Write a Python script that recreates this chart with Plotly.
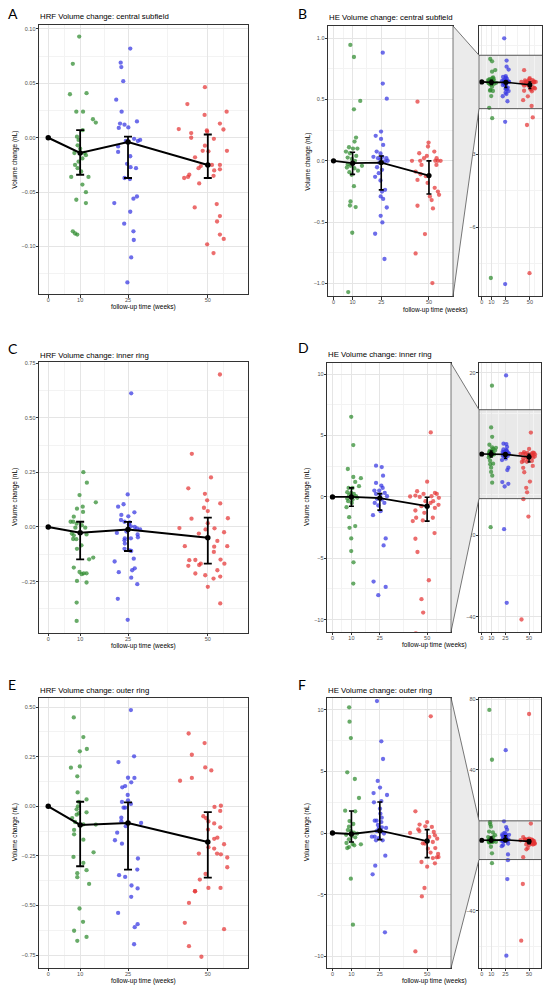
import plotly.graph_objects as go

W, H = 550, 990
weeks = [0, 10, 25, 50]
minor_weeks = [5, 17.5, 37.5, 55]
green, blue, red = "#2e8b2e", "#3434e2", "#e43434"

# ---------- A: HRF central subfield ----------
a_mean = [0, -0.014, -0.004, -0.025]
a_lo = [0, -0.034, -0.037, -0.037]
a_hi = [0, 0.007, 0.001, 0.003]
a_green = [(9.7, 0.093), (7.7, 0.068), (6.8, 0.040), (12.0, 0.041), (8.8, 0.024), (10.9, 0.024),
           (14.0, 0.017), (14.9, 0.014), (9.0, 0.001), (9.5, -0.002), (9.2, -0.007), (10.8, 0.007),
           (10.0, -0.010), (8.2, -0.014), (11.8, -0.016), (10.7, -0.019), (11.4, -0.014), (9.5, -0.022),
           (8.4, -0.025), (9.2, -0.028), (10.3, -0.031), (7.2, -0.036), (12.6, -0.036), (10.7, -0.043),
           (11.8, -0.050), (8.8, -0.057), (11.8, -0.060), (7.7, -0.086), (8.4, -0.088), (9.1, -0.089)]
a_blue = [(25.7, 0.082), (22.7, 0.069), (22.9, 0.065), (23.5, 0.052), (21.3, 0.035), (23.0, 0.024),
          (27.8, 0.015), (22.5, 0.013), (23.9, 0.012), (22.1, 0.009), (25.1, 0.0095), (24.3, -0.003),
          (26.9, -0.001), (28.1, -0.003), (28.8, -0.002), (21.9, -0.008), (21.9, -0.013), (25.7, -0.017),
          (24.7, -0.024), (25.8, -0.027), (27.5, -0.028), (23.9, -0.037), (25.6, -0.038), (27.8, -0.054),
          (26.7, -0.056), (20.7, -0.060), (25.7, -0.068), (23.8, -0.079), (26.7, -0.086), (26.8, -0.094),
          (26.0, -0.110), (24.8, -0.133)]
a_red = [(49.1, 0.0465), (43.6, 0.031), (55.9, 0.024), (49.0, 0.021), (53.8, 0.013), (40.9, 0.008),
         (54.9, 0.0076), (49.7, 0.0067), (49.8, 0.0055), (44.8, 0.0043), (44.8, 0.0), (51.9, -0.001),
         (49.1, -0.0073), (56.0, -0.012), (48.4, -0.012), (50.2, -0.0125), (46.0, -0.018), (53.8, -0.025),
         (47.8, -0.026), (47.1, -0.028), (51.3, -0.025), (53.8, -0.029), (52.0, -0.030), (44.2, -0.034),
         (43.8, -0.036), (42.6, -0.037), (51.8, -0.035), (47.3, -0.042), (45.9, -0.064), (52.8, -0.061),
         (53.8, -0.072), (52.9, -0.077), (53.8, -0.089), (55.0, -0.093), (49.8, -0.098), (51.8, -0.106)]

# ---------- B: HE central subfield ----------
b_mean = [0, -0.019, -0.014, -0.12]
b_lo = [0, -0.11, -0.236, -0.27]
b_hi = [0, 0.07, 0.04, 0.0]
b_green = [(8.8, 0.945), (10.7, 0.847), (14.0, 0.489), (10.7, 0.42), (11.8, 0.19), (11.0, 0.157),
           (8.1, 0.111), (10.2, 0.10), (12.5, 0.10), (6.5, 0.076), (8.6, 0.062), (11.9, 0.04),
           (7.4, 0.027), (9.6, 0.016), (11.2, 0.0), (7.5, -0.027), (8.9, -0.04), (14.9, -0.04),
           (7.0, -0.054), (10.9, -0.06), (12.8, -0.08), (8.3, -0.092), (9.5, -0.114), (10.7, -0.206),
           (8.9, -0.331), (8.6, -0.364), (11.6, -0.377), (9.8, -0.586), (7.7, -1.07), (10.8, -1.5),
           (9.4, -8.1)]
b_blue = [(25.8, 0.882), (25.8, 0.63), (27.9, 0.507), (24.9, 0.239), (22.1, 0.204), (24.9, 0.179),
          (26.0, 0.13), (22.6, 0.076), (24.6, 0.06), (20.9, 0.033), (25.6, 0.033), (23.3, 0.022),
          (27.7, 0.022), (24.6, 0.011), (26.8, -0.005), (28.4, 0.0), (24.0, -0.016), (22.8, -0.052),
          (25.4, -0.073), (23.7, -0.1), (21.8, -0.13), (24.6, -0.16), (27.0, -0.236), (25.4, -0.25),
          (24.7, -0.29), (26.0, -0.31), (27.9, -0.38), (24.7, -0.448), (25.6, -0.502), (21.8, -0.594),
          (26.7, -0.80), (23.3, 1.8), (24.3, -1.65), (24.3, -8.35)]
b_red = [(44.0, 0.483), (49.8, 0.149), (49.5, 0.117), (52.8, 0.076), (44.9, 0.062), (48.9, 0.04),
         (47.4, 0.022), (41.1, 0.0), (45.4, 0.0), (53.3, 0.0), (54.6, 0.0), (56.1, 0.0), (54.0, 0.022),
         (46.1, -0.033), (53.9, -0.033), (43.0, -0.087), (45.6, -0.109), (48.4, -0.125), (44.0, -0.155),
         (49.3, -0.18), (53.0, -0.22), (54.7, -0.25), (55.3, -0.277), (50.5, -0.29), (51.4, -0.32),
         (52.1, -0.388), (44.0, -0.366), (47.9, -0.597), (43.0, -0.755), (51.8, -0.996), (53.0, -1.47),
         (47.0, -1.78), (49.6, -7.9)]

# ---------- C: HRF inner ring ----------
c_mean = [0, -0.026, -0.011, -0.049]
c_lo = [0, -0.148, -0.11, -0.168]
c_hi = [0, 0.024, 0.023, 0.043]
c_green = [(11.0, 0.251), (12.1, 0.203), (9.8, 0.146), (14.9, 0.113), (10.8, 0.093), (9.0, 0.084),
           (10.9, 0.069), (8.0, 0.047), (7.0, 0.024), (7.8, 0.024), (8.9, 0.015), (10.5, 0.008),
           (11.6, -0.003), (8.5, -0.003), (7.4, -0.03), (8.0, -0.038), (12.0, -0.034), (8.8, -0.056),
           (7.8, -0.055), (9.0, -0.1), (10.4, -0.084), (14.1, -0.14), (12.8, -0.148), (8.0, -0.186),
           (9.8, -0.206), (11.1, -0.212), (12.0, -0.212), (10.5, -0.216), (9.0, -0.247), (12.0, -0.254),
           (8.9, -0.346), (8.9, -0.43)]
c_blue = [(26.0, 0.612), (24.9, 0.149), (23.6, 0.104), (21.9, 0.093), (27.0, 0.067), (22.9, 0.055),
          (25.1, 0.049), (22.8, 0.032), (23.9, 0.024), (25.5, 0.021), (25.3, 0.012), (25.9, 0.003),
          (27.1, 0.0), (27.8, -0.006), (28.8, -0.011), (21.5, -0.027), (24.5, -0.021), (28.0, -0.034),
          (28.1, -0.047), (24.0, -0.052), (25.9, -0.052), (23.9, -0.061), (24.0, -0.076), (23.9, -0.1),
          (25.5, -0.107), (26.0, -0.11), (26.8, -0.145), (20.8, -0.158), (22.1, -0.207), (27.1, -0.189),
          (26.3, -0.198), (26.0, -0.232), (27.9, -0.262), (21.8, -0.329), (24.9, -0.425)]
c_red = [(53.8, 0.698), (45.0, 0.335), (51.0, 0.227), (43.9, 0.177), (49.1, 0.152), (49.8, 0.122),
         (53.9, 0.108), (48.8, 0.088), (50.0, 0.073), (44.9, 0.038), (56.3, 0.04), (50.0, 0.017),
         (49.3, -0.011), (41.1, -0.005), (52.1, -0.006), (47.2, -0.03), (55.1, -0.024), (53.0, -0.064),
         (42.8, -0.088), (52.0, -0.09), (56.1, -0.088), (51.9, -0.114), (54.0, -0.149), (44.2, -0.152),
         (46.1, -0.151), (55.2, -0.168), (47.8, -0.168), (43.9, -0.178), (47.3, -0.174), (53.0, -0.198),
         (46.1, -0.213), (49.2, -0.221), (53.9, -0.227), (51.8, -0.236), (50.0, -0.274), (53.9, -0.35)]

# ---------- D: HE inner ring ----------
d_mean = [0, 0.0, -0.1, -0.76]
d_lo = [0, -0.76, -1.08, -1.97]
d_hi = [0, 0.73, 0.27, -0.03]
d_green = [(9.9, 6.52), (11.0, 4.22), (8.1, 2.27), (11.0, 1.62), (15.0, 1.52), (12.0, 1.22),
           (14.0, 0.87), (8.5, 0.73), (10.6, 0.73), (7.8, 0.38), (9.9, 0.32), (11.3, 0.24),
           (8.8, 0.135), (12.4, 0.05), (7.8, -0.135), (10.6, -0.22), (13.1, -0.08), (8.3, -0.35),
           (10.2, -0.49), (7.4, -0.84), (8.8, -1.65), (9.0, -2.52), (12.0, -2.38), (9.9, -3.38),
           (9.9, -4.41), (11.1, -5.33), (11.0, -7.06), (10.8, 16.8), (9.4, -18.0)]
d_blue = [(23.0, 2.54), (26.0, 2.43), (26.7, 1.73), (23.0, 1.14), (25.8, 0.92), (26.5, 0.73),
          (22.1, 0.51), (24.7, 0.51), (23.0, 0.24), (25.3, 0.19), (27.6, 0.32), (28.8, 0.05),
          (23.5, -0.16), (26.1, -0.22), (22.3, -0.49), (27.4, -0.49), (24.2, -0.70), (21.4, -1.49),
          (25.4, -1.16), (28.1, -3.38), (27.0, -3.95), (21.7, -6.9), (28.1, -7.33), (24.2, -8.0),
          (25.7, 19.3), (23.6, -18.5), (26.4, -36.6)]
d_red = [(51.9, 5.25), (50.0, 1.24), (54.1, 0.32), (55.1, 0.24), (44.7, 0.46), (48.1, 0.24),
         (52.3, 0.05), (41.0, 0.03), (43.8, 0.11), (46.1, 0.0), (56.2, -0.08), (53.2, -0.35),
         (49.1, -0.35), (51.8, -0.49), (56.0, -0.65), (47.0, -0.76), (54.1, -0.89), (43.8, -1.11),
         (48.5, -1.3), (53.0, -1.7), (44.2, -1.7), (47.7, -1.92), (42.4, -1.97), (53.9, -2.95),
         (43.8, -3.41), (44.9, -4.49), (50.9, -6.79), (47.0, -8.33), (47.9, -9.42), (44.0, -11.1),
         (49.3, -15.4), (42.0, -40.7)]

# ---------- E: HRF outer ring ----------
e_mean = [0, -0.094, -0.084, -0.18]
e_lo = [0, -0.302, -0.319, -0.359]
e_hi = [0, 0.023, 0.02, -0.029]
e_green = [(8.0, 0.448), (11.0, 0.349), (12.1, 0.289), (9.9, 0.277), (7.1, 0.195), (9.9, 0.201),
           (9.1, 0.151), (9.2, 0.070), (12.0, 0.035), (9.6, 0.022), (9.3, 0.0), (8.9, -0.015),
           (9.6, -0.035), (12.0, -0.03), (8.9, -0.042), (7.5, -0.059), (8.4, -0.079), (14.9, -0.092),
           (11.0, -0.091), (8.1, -0.119), (8.1, -0.141), (11.0, -0.168), (14.2, -0.232), (7.9, -0.255),
           (11.0, -0.285), (12.0, -0.322), (9.1, -0.337), (9.1, -0.357), (12.8, -0.391), (9.8, -0.515),
           (10.9, -0.582), (8.1, -0.627), (9.1, -0.678), (12.0, -0.658)]
e_blue = [(25.9, 0.485), (26.9, 0.252), (22.0, 0.223), (25.0, 0.144), (27.0, 0.143), (26.0, 0.121),
          (24.1, 0.102), (23.2, 0.096), (24.9, 0.057), (25.0, 0.03), (23.1, 0.022), (25.9, 0.012),
          (24.1, -0.007), (23.6, -0.007), (22.9, -0.057), (29.1, -0.084), (24.3, -0.1), (22.9, -0.075),
          (21.6, -0.133), (20.9, -0.171), (23.1, -0.188), (28.1, -0.263), (27.9, -0.319), (22.2, -0.347),
          (24.1, -0.356), (26.1, -0.399), (28.0, -0.414), (26.0, -0.456), (21.9, -0.537), (28.0, -0.594),
          (27.1, -0.609), (26.9, -0.695)]
e_red = [(44.0, 0.367), (49.0, 0.319), (45.0, 0.26), (49.2, 0.196), (51.1, 0.181), (45.0, 0.143),
         (41.3, 0.129), (54.1, 0.003), (52.1, -0.003), (53.9, -0.023), (48.6, -0.05), (49.5, -0.06),
         (50.2, -0.076), (52.0, -0.086), (53.9, -0.106), (50.1, -0.117), (53.0, -0.158), (52.0, -0.164),
         (55.1, -0.191), (50.2, -0.206), (52.0, -0.213), (52.9, -0.238), (54.1, -0.242), (47.2, -0.238),
         (56.1, -0.258), (56.1, -0.307), (49.3, -0.341), (47.5, -0.369), (50.2, -0.411), (54.0, -0.411),
         (46.0, -0.428), (46.0, -0.428), (44.1, -0.487), (42.8, -0.587), (55.1, -0.619), (44.1, -0.705),
         (48.0, -0.758)]

# ---------- F: HE outer ring ----------
f_mean = [0, -0.08, 0.19, -0.65]
f_lo = [0, -0.73, -0.54, -2.0]
f_hi = [0, 1.78, 2.51, 0.27]
f_green = [(8.8, 10.19), (9.0, 9.03), (9.7, 7.7), (7.8, 4.92), (11.8, 4.38), (14.0, 2.84),
           (6.7, 1.81), (12.0, 1.76), (9.0, 0.97), (11.0, 0.73), (8.7, 0.51), (8.1, 0.24),
           (9.7, 0.16), (11.3, 0.03), (13.1, -0.05), (7.2, -0.14), (10.1, -0.24), (12.0, -0.35),
           (8.7, -0.51), (7.4, -0.81), (10.6, -0.89), (15.0, -0.92), (11.5, -1.0), (8.7, -1.14),
           (7.8, -1.22), (9.7, -3.7), (10.8, -7.43), (8.0, 73.8), (10.8, 45.6), (10.8, -13.0)]
f_blue = [(23.5, 10.7), (25.8, 7.43), (26.7, 6.0), (23.9, 4.22), (25.1, 3.68), (28.8, 3.08),
          (21.7, 3.24), (25.8, 2.59), (21.9, 2.49), (25.1, 1.97), (25.3, 1.57), (26.0, 1.24),
          (22.3, 1.0), (23.3, 1.0), (25.8, 0.89), (24.0, 0.65), (26.1, 0.46), (28.3, 0.41),
          (24.4, 0.35), (23.3, 0.16), (25.8, 0.14), (27.2, -0.05), (22.3, -0.3), (24.4, -0.41),
          (26.5, -0.59), (20.8, -0.3), (23.0, -0.59), (27.9, -1.84), (22.6, -2.65), (21.2, -3.35),
          (27.7, -8.05), (27.6, -11.3), (25.3, 51.0), (27.0, -22.0), (26.0, -65.4)]
f_red = [(51.9, 9.46), (43.8, 1.76), (50.0, 0.89), (46.0, 0.68), (49.0, 0.54), (52.5, 0.49),
         (45.3, 0.30), (53.5, 0.08), (41.0, 0.0), (45.9, 0.16), (54.1, -0.19), (51.1, -0.32),
         (55.3, -0.46), (47.7, -0.84), (53.0, -0.73), (48.8, -0.86), (50.4, -1.27), (54.3, -1.22),
         (51.8, -1.59), (55.8, -1.7), (55.1, -1.97), (53.0, -2.03), (56.0, -1.95), (47.0, -2.35),
         (54.1, -2.46), (50.0, -2.73), (48.6, -4.46), (47.2, -5.14), (43.8, -9.6), (50.0, 71.5),
         (43.4, -24.8), (41.7, -56.9)]

fig = go.Figure()
FONT = "Liberation Sans"
GRID = "#e5e5e5"
MINOR = "#f3f3f3"
FRAME = "#333333"


def add_panel(n, groups, mean, lo, hi, xpx, ypx, yrange, dtick, fmt, cap, lw):
    xa = "x" if n == 1 else f"x{n}"
    ya = "y" if n == 1 else f"y{n}"
    for pts, col in zip(groups, [green, blue, red]):
        fig.add_trace(go.Scatter(x=[p[0] for p in pts], y=[p[1] for p in pts], mode="markers",
                                 marker=dict(color=col, size=4.3, opacity=0.72, line=dict(width=0)),
                                 xaxis=xa, yaxis=ya, showlegend=False, hoverinfo="skip"))
    fig.add_trace(go.Scatter(x=weeks, y=mean, mode="lines+markers",
                             line=dict(color="black", width=lw), marker=dict(color="black", size=lw + 3.5),
                             xaxis=xa, yaxis=ya, showlegend=False))
    fig.add_trace(go.Scatter(x=weeks[1:], y=mean[1:], mode="markers", marker=dict(color="black", size=1),
                             error_y=dict(type="data", array=[h - m for h, m in zip(hi[1:], mean[1:])],
                                          arrayminus=[m - l for m, l in zip(mean[1:], lo[1:])],
                                          color="black", thickness=lw * 0.9, width=cap),
                             xaxis=xa, yaxis=ya, showlegend=False))
    key = "" if n == 1 else str(n)
    tickfont = dict(family=FONT, size=5.5, color="#4d4d4d")
    fig.update_layout({
        "xaxis" + key: dict(domain=[xpx[0] / W, xpx[1] / W], range=[-2.9, 62.6], anchor=ya,
                            tickvals=weeks, ticks="outside", ticklen=2.5, tickwidth=0.6, tickcolor=FRAME,
                            showline=True, mirror=True, linecolor=FRAME, linewidth=0.8,
                            gridcolor=GRID, gridwidth=0.6, zeroline=False, tickfont=tickfont,
                            ticklabelstandoff=-2,
                            minor=dict(tickvals=minor_weeks, showgrid=True, gridcolor=MINOR, gridwidth=0.4)),
        "yaxis" + key: dict(domain=[1 - ypx[1] / H, 1 - ypx[0] / H], range=yrange, anchor=xa,
                            tick0=0, dtick=dtick, tickformat=fmt, ticks="outside", ticklen=2.5,
                            tickwidth=0.6, tickcolor=FRAME, showline=True, mirror=True,
                            linecolor=FRAME, linewidth=0.8, gridcolor=GRID, gridwidth=0.6,
                            zeroline=False, tickfont=tickfont, ticklabelstandoff=-1,
                            minor=dict(dtick=dtick / 2, tick0=0, showgrid=True, gridcolor=MINOR, gridwidth=0.4)),
    })


def zoom_link(n_inset, main_right, inset_left, ypx, main_range, inset_range):
    t, b = ypx
    r0, r1 = inset_range

    def py(v):
        return t + (r1 - v) / (r1 - r0) * (b - t)

    yt, yb = py(main_range[1]), py(main_range[0])
    path = (f"M {main_right / W},{1 - t / H} L {inset_left / W},{1 - yt / H} "
            f"L {inset_left / W},{1 - yb / H} L {main_right / W},{1 - b / H} Z")
    fig.add_shape(type="path", path=path, xref="paper", yref="paper", fillcolor="#ebebeb",
                  line=dict(color="#555555", width=0.8))
    fig.add_shape(type="rect", xref=f"x{n_inset} domain", yref=f"y{n_inset}", x0=0, x1=1,
                  y0=main_range[0], y1=main_range[1], fillcolor="#e9e9e9", layer="below",
                  line=dict(width=0))
    for v in main_range:
        fig.add_shape(type="line", xref=f"x{n_inset} domain", yref=f"y{n_inset}", x0=0, x1=1,
                      y0=v, y1=v, line=dict(color="#444444", width=0.9))


def label(text, x, y, size, xanchor="left", angle=0, family=FONT):
    fig.add_annotation(text=text, x=x / W, y=1 - y / H, xref="paper", yref="paper", showarrow=False,
                       xanchor=xanchor, yanchor="middle", textangle=angle,
                       font=dict(family=family, size=size, color="black"))


# ranges
rA = [-0.144, 0.1037]
rB, rBi = [-1.105, 1.10], [-8.86, 2.31]
rC = [-0.484, 0.754]
rD, rDi = [-10.98, 10.88], [-43.7, 22.3]
rE = [-0.815, 0.548]
rF, rFi = [-10.95, 10.98], [-72.4, 80.8]

add_panel(1, [a_green, a_blue, a_red], a_mean, a_lo, a_hi, (39, 248), (23, 293), rA, 0.05, ".2f", 4, 2)
add_panel(2, [b_green, b_blue, b_red], b_mean, b_lo, b_hi, (328, 453), (24, 295), rB, 0.5, ".1f", 2.5, 1.8)
add_panel(3, [b_green, b_blue, b_red], b_mean, b_lo, b_hi, (479, 542), (24, 295), rBi, 3, "d", 1.5, 1.6)
add_panel(4, [c_green, c_blue, c_red], c_mean, c_lo, c_hi, (39, 248), (361, 632), rC, 0.25, ".2f", 4, 2)
add_panel(5, [d_green, d_blue, d_red], d_mean, d_lo, d_hi, (327, 451), (362, 631), rD, 5, "d", 2.5, 1.8)
add_panel(6, [d_green, d_blue, d_red], d_mean, d_lo, d_hi, (479, 541), (362, 631), rDi, 20, "d", 1.5, 1.6)
add_panel(7, [e_green, e_blue, e_red], e_mean, e_lo, e_hi, (39, 248), (697, 968), rE, 0.25, ".2f", 4, 2)
add_panel(8, [f_green, f_blue, f_red], f_mean, f_lo, f_hi, (327, 451), (697, 968), rF, 5, "d", 2.5, 1.8)
add_panel(9, [f_green, f_blue, f_red], f_mean, f_lo, f_hi, (479, 541), (697, 968), rFi, 40, "d", 1.5, 1.6)

zoom_link(3, 453, 479, (24, 295), rB, rBi)
zoom_link(6, 451, 479, (362, 631), rD, rDi)
zoom_link(9, 451, 479, (697, 968), rF, rFi)

# panel letters, titles and axis titles
for let, x, y in [("A", 6, 12), ("B", 296, 12), ("C", 6, 347), ("D", 296, 346), ("E", 6, 684), ("F", 296, 684)]:
    label(let, x, y, 14, family="Lato")
titles = [("HRF Volume change: central subfield", 38, 15), ("HE Volume change: central subfield", 327, 16),
          ("HRF Volume change: inner ring", 38, 354), ("HE Volume change: inner ring", 326, 353),
          ("HRF Volume change: outer ring", 38, 690), ("HE Volume change: outer ring", 326, 690)]
for t, x, y in titles:
    label(t, x, y, 7.8)
for x, y in [(15, 158), (308, 160), (15, 496), (307, 496), (15, 832), (307, 832)]:
    label("Volume change (nL)", x, y, 6.5, xanchor="center", angle=-90)
for x, y in [(143.5, 306), (435, 309), (143.5, 645), (434, 644), (143.5, 981), (434, 981)]:
    label("follow-up time (weeks)", x, y, 6.5, xanchor="center")

fig.update_layout(width=W, height=H, margin=dict(l=0, r=0, t=0, b=0),
                  paper_bgcolor="white", plot_bgcolor="white", showlegend=False)
fig.write_html("out.html", config={"displayModeBar": False},
               post_script="document.body.style.margin='0px';")
